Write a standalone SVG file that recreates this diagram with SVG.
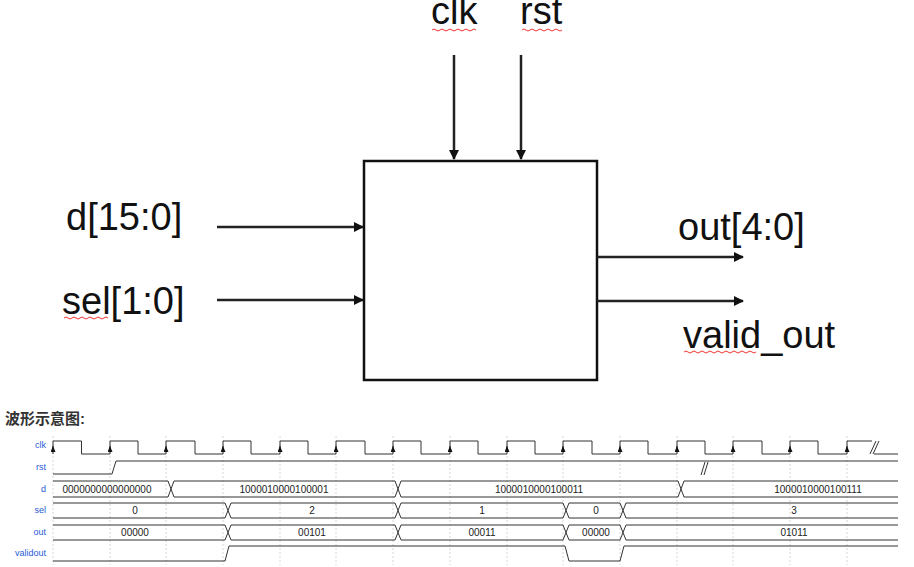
<svg xmlns="http://www.w3.org/2000/svg" width="914" height="567" viewBox="0 0 914 567">
<style>
.big{font-family:"Liberation Sans",Arial,sans-serif;font-size:38px;fill:#111}
.w{stroke:#222;stroke-width:2.5;fill:none}
.wv{stroke:#333;stroke-width:1;fill:none}
.g{stroke:#ccc;stroke-width:0.8;stroke-dasharray:2,2}
.lb{font-family:"Liberation Sans",Arial,sans-serif;font-size:9px;fill:#2a5bd7}
.v{font-family:"Liberation Sans",Arial,sans-serif;font-size:10px;fill:#222;text-anchor:middle}
.sq{stroke:#e33;stroke-width:1;fill:none}
</style>
<defs>
<marker id="ah" markerWidth="10" markerHeight="10" refX="9" refY="5" orient="auto" markerUnits="userSpaceOnUse"><path d="M0,0 L10,5 L0,10 z" fill="#111"/></marker>
<marker id="ca" markerWidth="5" markerHeight="6" refX="2.5" refY="0" orient="0" markerUnits="userSpaceOnUse"><path d="M0,6 L2.5,0 L5,6 z" fill="#111"/></marker>
</defs>
<rect width="914" height="567" fill="#fff"/>
<g id="block"><rect x="364" y="161" width="233" height="219" fill="#fff" stroke="#111" stroke-width="2.5"/></g>
<g id="connectors">
<line class="w" x1="454" y1="55" x2="454" y2="159" marker-end="url(#ah)"/>
<line class="w" x1="521" y1="55" x2="521" y2="159" marker-end="url(#ah)"/>
<line class="w" x1="217" y1="227" x2="363" y2="227" marker-end="url(#ah)"/>
<line class="w" x1="217" y1="300" x2="363" y2="300" marker-end="url(#ah)"/>
<line class="w" x1="597" y1="257" x2="743" y2="257" marker-end="url(#ah)"/>
<line class="w" x1="597" y1="301" x2="743" y2="301" marker-end="url(#ah)"/>
</g>
<g id="labels">
<text class="big" x="431" y="24">clk</text>
<text class="big" x="520" y="24">rst</text>
<text class="big" x="66" y="230">d[15:0]</text>
<text class="big" x="62" y="314">sel[1:0]</text>
<text class="big" x="678" y="240">out[4:0]</text>
<text class="big" x="683" y="348">valid_out</text>
<path class="sq" d="M432,30 q2,-2 4,0 t4,0 t4,0 t4,0 t4,0 t4,0 t4,0 t4,0 t4,0 t4,0 t4,0"/>
<path class="sq" d="M522,30 q2,-2 4,0 t4,0 t4,0 t4,0 t4,0 t4,0 t4,0 t4,0 t4,0 t4,0"/>
<path class="sq" d="M64,318 q2,-2 4,0 t4,0 t4,0 t4,0 t4,0 t4,0 t4,0 t4,0 t4,0 t4,0 t4,0"/>
<path class="sq" d="M684,352 q2,-2 4,0 t4,0 t4,0 t4,0 t4,0 t4,0 t4,0 t4,0 t4,0 t4,0 t4,0 t4,0 t4,0 t4,0 t4,0 t4,0 t4,0 t4,0"/>
</g>
<text x="5" y="424" font-family="Liberation Sans,'Noto Sans CJK SC',sans-serif" font-size="15" font-weight="bold" fill="#333">波形示意图:</text>
<g id="waveform">
<g class="g">
<line x1="53" y1="436" x2="53" y2="565"/><line x1="110" y1="436" x2="110" y2="565"/><line x1="166" y1="436" x2="166" y2="565"/><line x1="223" y1="436" x2="223" y2="565"/><line x1="280" y1="436" x2="280" y2="565"/><line x1="336" y1="436" x2="336" y2="565"/><line x1="393" y1="436" x2="393" y2="565"/><line x1="450" y1="436" x2="450" y2="565"/><line x1="507" y1="436" x2="507" y2="565"/><line x1="563" y1="436" x2="563" y2="565"/><line x1="620" y1="436" x2="620" y2="565"/><line x1="677" y1="436" x2="677" y2="565"/><line x1="733" y1="436" x2="733" y2="565"/><line x1="790" y1="436" x2="790" y2="565"/><line x1="847" y1="436" x2="847" y2="565"/>
</g>
<text class="lb" x="46" y="448" text-anchor="end">clk</text>
<text class="lb" x="46" y="470" text-anchor="end">rst</text>
<text class="lb" x="46" y="492" text-anchor="end">d</text>
<text class="lb" x="46" y="513" text-anchor="end">sel</text>
<text class="lb" x="46" y="535" text-anchor="end">out</text>
<text class="lb" x="46" y="556" text-anchor="end">validout</text>
<path class="wv" d="M53,454 V441 H81.5 V454 H110 V441 H138 V454 H166 V441 H195 V454 H223 V441 H251 V454 H280 V441 H308 V454 H336 V441 H365 V454 H393 V441 H421 V454 H450 V441 H478 V454 H507 V441 H535 V454 H563 V441 H592 V454 H620 V441 H648 V454 H677 V441 H705 V454 H733 V441 H762 V454 H790 V441 H818 V454 H847 V441 H872 M874,454 H898"/>
<path class="wv" d="M870,454 L876,441 M873,454 L879,441"/>
<g>
<path d="M53,449 V446" class="wv" marker-end="url(#ca)"/><path d="M110,449 V446" class="wv" marker-end="url(#ca)"/><path d="M166,449 V446" class="wv" marker-end="url(#ca)"/><path d="M223,449 V446" class="wv" marker-end="url(#ca)"/><path d="M280,449 V446" class="wv" marker-end="url(#ca)"/><path d="M336,449 V446" class="wv" marker-end="url(#ca)"/><path d="M393,449 V446" class="wv" marker-end="url(#ca)"/><path d="M450,449 V446" class="wv" marker-end="url(#ca)"/><path d="M507,449 V446" class="wv" marker-end="url(#ca)"/><path d="M563,449 V446" class="wv" marker-end="url(#ca)"/><path d="M620,449 V446" class="wv" marker-end="url(#ca)"/><path d="M677,449 V446" class="wv" marker-end="url(#ca)"/><path d="M733,449 V446" class="wv" marker-end="url(#ca)"/><path d="M790,449 V446" class="wv" marker-end="url(#ca)"/><path d="M847,449 V446" class="wv" marker-end="url(#ca)"/>
</g>
<path class="wv" d="M53,474 H112 L116,461 H898"/>
<path class="wv" d="M701,475 L705,462 M704,475 L708,462"/>
<path class="wv" d="M53,481 H168 L171,489 L168,497 H53 M174,481 L171,489 L174,497 H395 L398,489 L395,481 H174 M401,481 L398,489 L401,497 H678 L681,489 L678,481 H401 M684,481 L681,489 L684,497 H898 M684,481 H898"/>
<text class="v" x="107" y="493">0000000000000000</text>
<text class="v" x="284" y="493">1000010000100001</text>
<text class="v" x="539" y="493">1000010000100011</text>
<text class="v" x="818" y="493">1000010000100111</text>
<path class="wv" d="M53,503 H225 L228,510.5 L225,518 H53 M231,503 L228,510.5 L231,518 H395 L398,510.5 L395,503 H231 M401,503 L398,510.5 L401,518 H563 L566,510.5 L563,503 H401 M569,503 L566,510.5 L569,518 H620 L623,510.5 L620,503 H569 M626,503 L623,510.5 L626,518 H898 M626,503 H898"/>
<text class="v" x="135" y="514">0</text><text class="v" x="312" y="514">2</text><text class="v" x="482" y="514">1</text><text class="v" x="596" y="514">0</text><text class="v" x="794" y="514">3</text>
<path class="wv" d="M53,525 H225 L228,532.5 L225,540 H53 M231,525 L228,532.5 L231,540 H395 L398,532.5 L395,525 H231 M401,525 L398,532.5 L401,540 H563 L566,532.5 L563,525 H401 M569,525 L566,532.5 L569,540 H620 L623,532.5 L620,525 H569 M626,525 L623,532.5 L626,540 H898 M626,525 H898"/>
<text class="v" x="135" y="536">00000</text><text class="v" x="312" y="536">00101</text><text class="v" x="482" y="536">00011</text><text class="v" x="596" y="536">00000</text><text class="v" x="794" y="536">01011</text>
<path class="wv" d="M53,561 H225 L229,546 H565 L569,561 H620 L624,546 H898"/>
</g>
</svg>
